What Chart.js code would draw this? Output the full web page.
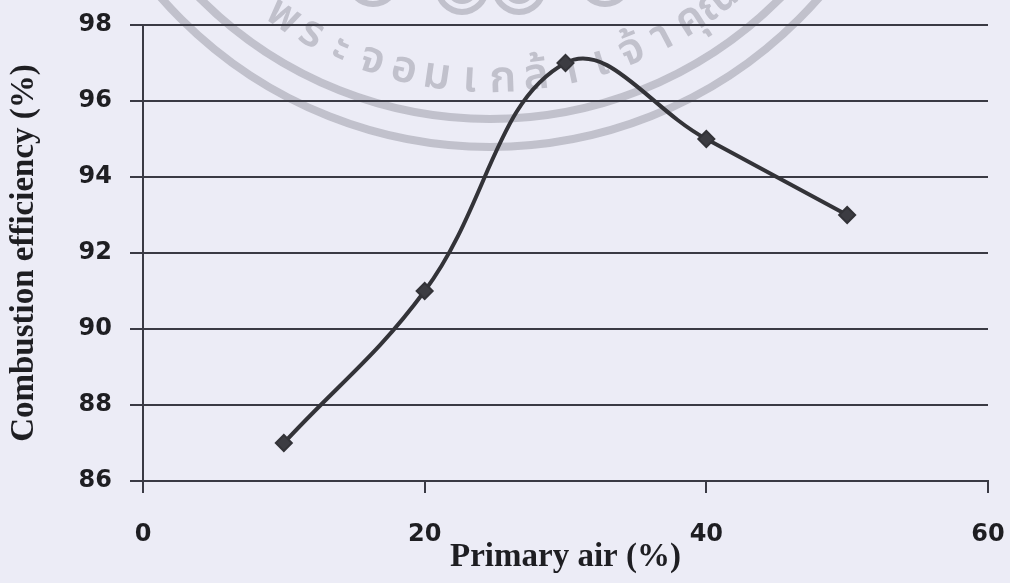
<!DOCTYPE html>
<html>
<head>
<meta charset="utf-8">
<script src="https://cdn.jsdelivr.net/npm/chart.js@4"></script>
<style>
  html, body { margin: 0; padding: 0; background: #ececf6; }
  #wrap { width: 1010px; height: 583px; }
</style>
</head>
<body>
<div id="wrap"><canvas id="effChart" width="1010" height="583"></canvas></div>
<script>
// primary air (%) vs combustion efficiency (%)
const primaryAir = [10, 20, 30, 40, 50];
const efficiency = [87, 91, 97, 95, 93];
const xTickValues = [0, 20, 40, 60];
const yTickValues = [86, 88, 90, 92, 94, 96, 98];

// stamp text around the seal
const sealClusters = ['พ', 'ร', 'ะ', 'จ', 'อ', 'ม', 'เ', 'ก', 'ล้', 'า', 'เ', 'จ้', 'า', 'คุ', 'ณ'];

const axisColor = '#3a3a44';
const tickFont = { family: '"DejaVu Sans", Verdana, sans-serif', size: 24, weight: 'bold' };
const titleFont = { family: '"Liberation Serif", "Times New Roman", serif', size: 33, weight: 'bold' };

// faint university seal stamped behind the plot
const sealPlugin = {
  id: 'seal',
  beforeDraw(chart) {
    const ctx = chart.ctx;
    const cx = 490, cy = -290;
    const ink = 'rgba(150,150,162,0.5)';
    ctx.save();
    ctx.strokeStyle = ink;
    ctx.lineWidth = 8;
    [437, 409].forEach(r => {
      ctx.beginPath();
      ctx.arc(cx, cy, r, 0, Math.PI);
      ctx.stroke();
    });
    // small double rings of the emblem peeking in at the top
    ctx.lineWidth = 6;
    [[373, -20], [462, -12], [519, -12], [605, -20]].forEach(([x, y]) => {
      [24, 13].forEach(r => {
        ctx.beginPath();
        ctx.arc(x, y, r, 0, Math.PI * 2);
        ctx.stroke();
      });
    });
    ctx.fillStyle = ink;
    ctx.font = '600 44px "Noto Sans Thai", "Noto Sans", "DejaVu Sans", sans-serif';
    ctx.textAlign = 'center';
    ctx.textBaseline = 'middle';
    const start = 124 * Math.PI / 180;
    const end = 52 * Math.PI / 180;
    const step = (start - end) / (sealClusters.length - 1);
    sealClusters.forEach((ch, i) => {
      const a = start - i * step;
      ctx.save();
      ctx.translate(cx + 373 * Math.cos(a), cy + 373 * Math.sin(a));
      ctx.rotate(a - Math.PI / 2);
      ctx.fillText(ch, 0, 0);
      ctx.restore();
    });
    ctx.restore();
  }
};

const points = primaryAir.map((x, i) => ({ x: x, y: efficiency[i] }));

new Chart(document.getElementById('effChart'), {
  type: 'scatter',
  data: {
    datasets: [{
      data: points,
      showLine: true,
      tension: 0.4,
      borderColor: '#333338',
      borderWidth: 4,
      pointStyle: 'rectRot',
      pointRadius: 8,
      pointBackgroundColor: '#3c3c42',
      pointBorderColor: '#333338',
      pointBorderWidth: 2
    }]
  },
  options: {
    responsive: false,
    animation: false,
    layout: { padding: { top: 25, right: 22 } },
    plugins: { legend: { display: false }, tooltip: { enabled: false } },
    scales: {
      x: {
        type: 'linear',
        min: 0,
        max: 60,
        afterBuildTicks: scale => { scale.ticks = xTickValues.map(v => ({ value: v })); },
        afterFit: scale => {
          scale.height = 102;
          scale.paddingLeft = 0;
          scale.paddingRight = 0;
        },
        grid: { drawOnChartArea: false, drawTicks: true, tickLength: 12, color: axisColor, lineWidth: 2 },
        border: { display: true, color: axisColor, width: 2 },
        ticks: { color: '#1e1e22', font: tickFont, padding: 27, maxRotation: 0 },
        title: { display: true, text: 'Primary air (%)', color: '#1e1e22', font: titleFont, padding: { top: 0, bottom: 6 } }
      },
      y: {
        min: 86,
        max: 98,
        afterBuildTicks: scale => { scale.ticks = yTickValues.map(v => ({ value: v })); },
        afterFit: scale => {
          scale.width = 143;
          scale.paddingTop = 0;
          scale.paddingBottom = 0;
        },
        grid: { color: axisColor, lineWidth: 2, tickLength: 13 },
        border: { display: true, color: axisColor, width: 2 },
        ticks: { color: '#1e1e22', font: tickFont, padding: 18 },
        title: { display: true, text: 'Combustion efficiency (%)', color: '#1e1e22', font: titleFont, padding: { top: 5, bottom: 0 } }
      }
    }
  },
  plugins: [sealPlugin]
});
</script>
</body>
</html>
